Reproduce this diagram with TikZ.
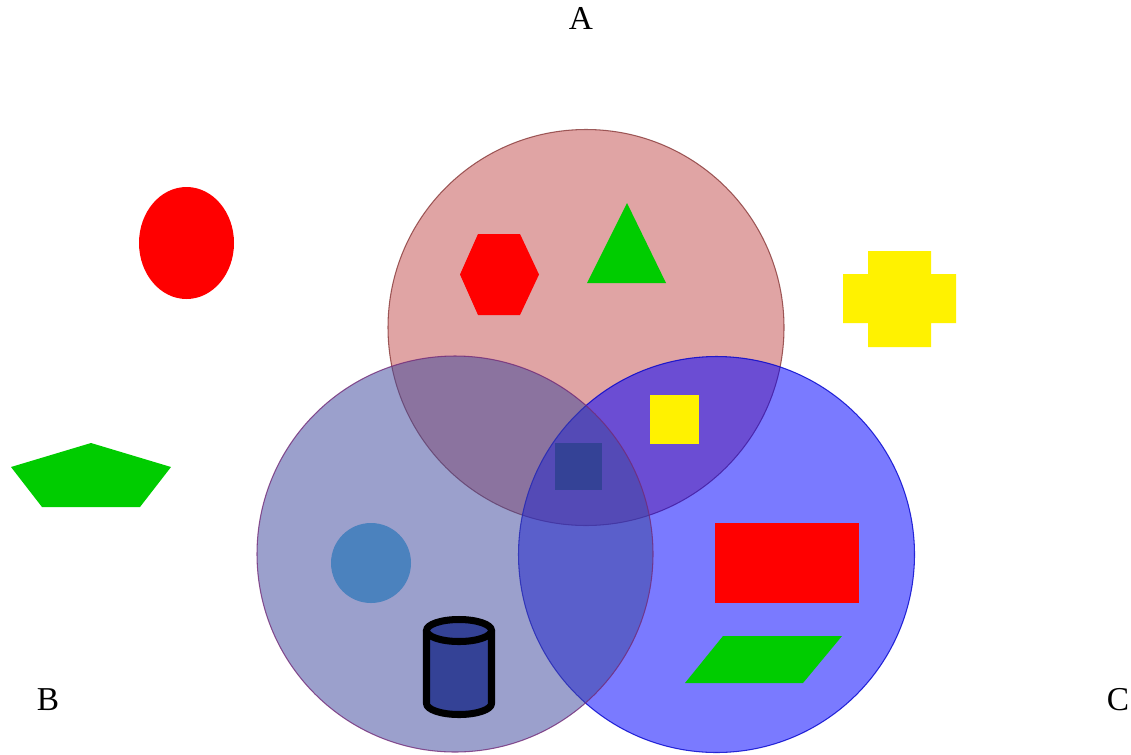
\documentclass[tikz,border=0pt]{standalone}
\usepackage{fontspec}
\setmainfont{Liberation Serif}
\definecolor{setA}{RGB}{195,80,80}
\definecolor{setB}{RGB}{63,72,157}
\definecolor{setC}{RGB}{0,0,255}
\definecolor{leafgreen}{RGB}{0,204,0}
\definecolor{deepblue}{RGB}{52,66,150}
\definecolor{dotblue}{RGB}{75,130,190}
\begin{document}
\begin{tikzpicture}
  [x={(0.02cm,0)},y={(0,-0.02cm)},
   every node/.style={font=\fontsize{19}{22}\selectfont,anchor=base,inner sep=0pt},
   set/.style={fill opacity=0.52,draw opacity=0.8,line width=0.6pt},
   solid shape/.style={draw=none}]
  \useasboundingbox (0,0) rectangle (1131,754);

  % the three sets
  \filldraw[set,fill=setA,draw=setA!70!black] (586,327.5) circle [radius=198];
  \filldraw[set,fill=setC,draw=setC!80!black] (716.5,554.5) circle [radius=198];
  \filldraw[set,fill=setB,draw=setB!60!purple] (455,554) circle [radius=198];

  \node (a) at (581,29) {A};
  \node (b) at (48,710) {B};
  \node (c) at (1118,710) {C};

  % outside
  \fill[red] (186.5,243) ellipse [x radius=47.5, y radius=56];
  \fill[leafgreen] (91,443) -- (171,467) -- (140,507) -- (42,507) -- (11,467) -- cycle;
  \fill[yellow] (868,251) -- (931,251) -- (931,274) -- (956,274) -- (956,323) -- (931,323)
    -- (931,347) -- (868,347) -- (868,323) -- (843,323) -- (843,274) -- (868,274) -- cycle;

  % set A
  \fill[red] (478,234) -- (520,234) -- (539,274.5) -- (520,315) -- (478,315) -- (460,274.5) -- cycle;
  \fill[leafgreen] (627,203) -- (666,283) -- (587,283) -- cycle;

  % overlaps
  \fill[yellow] (650,395) rectangle (699,444);
  \fill[deepblue] (555,443) rectangle (602,490);

  % set B
  \fill[dotblue] (371,563) circle [radius=40];
  \filldraw[fill=deepblue,draw=black,line width=4pt,line join=round]
    (426.5,630.5) -- (426.5,703.5) arc [start angle=180,end angle=0,x radius=32.5,y radius=11]
    -- (491.5,630.5);
  \filldraw[fill=deepblue,draw=black,line width=4pt] (459,630.5) ellipse [x radius=32.5, y radius=11];

  % set C
  \fill[red] (715,523) rectangle (859,603);
  \fill[leafgreen] (723,636) -- (842,636) -- (803,683) -- (685,683) -- cycle;
\end{tikzpicture}
\end{document}
